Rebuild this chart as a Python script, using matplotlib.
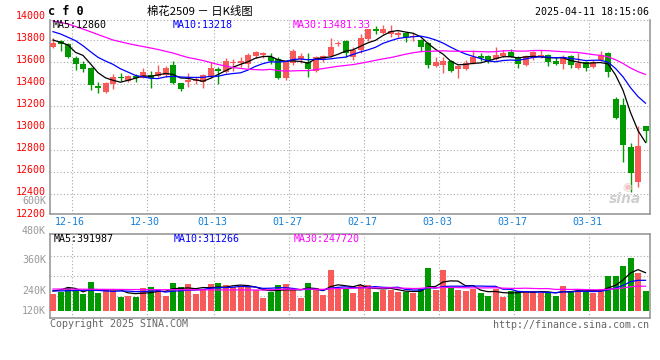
import numpy as np
import pandas as pd
import matplotlib
matplotlib.use("Agg")
import matplotlib.pyplot as plt
import matplotlib.transforms as mtransforms

# ---------------------------------------------------------------------------
# data (cotton 2509 daily K line)
# ---------------------------------------------------------------------------
opens = [13736, 13791, 13761, 13636, 13579, 13545, 13382, 13322, 13395, 13460,
         13427, 13470, 13455, 13479, 13470, 13479, 13570, 13404, 13418, 13425,
         13418, 13458, 13530, 13509, 13590, 13591, 13576, 13654, 13665, 13645,
         13624, 13455, 13585, 13622, 13600, 13515, 13622, 13654, 13762, 13788,
         13645, 13706, 13806, 13893, 13858, 13850, 13843, 13864, 13820, 13797,
         13773, 13561, 13570, 13609, 13531, 13534, 13585, 13652, 13652, 13622,
         13652, 13685, 13640, 13570, 13630, 13645, 13661, 13609, 13579, 13652,
         13545, 13600, 13549, 13615, 13676, 13258, 13206, 12822, 12509, 13015]
highs = [13813, 13800, 13770, 13654, 13606, 13555, 13413, 13412, 13485, 13495,
         13480, 13490, 13545, 13515, 13570, 13565, 13606, 13410, 13500, 13465,
         13490, 13600, 13555, 13630, 13621, 13645, 13682, 13700, 13690, 13676,
         13645, 13610, 13715, 13676, 13676, 13650, 13665, 13813, 13790, 13795,
         13736, 13849, 13900, 13924, 13933, 13930, 13880, 13870, 13860, 13810,
         13780, 13645, 13640, 13620, 13570, 13620, 13706, 13680, 13665, 13736,
         13706, 13715, 13650, 13665, 13700, 13706, 13670, 13640, 13660, 13665,
         13676, 13610, 13615, 13697, 13690, 13276, 13267, 12858, 13015, 13020]
lows = [13722, 13697, 13636, 13528, 13509, 13343, 13318, 13318, 13349, 13425,
        13418, 13420, 13450, 13364, 13460, 13465, 13400, 13334, 13373, 13400,
        13358, 13450, 13394, 13494, 13515, 13555, 13540, 13630, 13630, 13576,
        13440, 13430, 13570, 13585, 13458, 13505, 13600, 13645, 13740, 13645,
        13620, 13676, 13790, 13852, 13850, 13820, 13820, 13782, 13790, 13697,
        13545, 13550, 13500, 13509, 13455, 13525, 13575, 13610, 13590, 13615,
        13640, 13640, 13540, 13560, 13615, 13630, 13561, 13570, 13531, 13540,
        13535, 13520, 13540, 13610, 13464, 13080, 12691, 12418, 12464, 12873]
closes = [13773, 13758, 13643, 13576, 13536, 13388, 13358, 13409, 13464, 13450,
          13473, 13455, 13509, 13449, 13509, 13545, 13409, 13349, 13433, 13440,
          13479, 13545, 13520, 13606, 13600, 13609, 13661, 13685, 13680, 13609,
          13455, 13594, 13700, 13652, 13534, 13645, 13652, 13736, 13770, 13676,
          13706, 13813, 13894, 13883, 13894, 13880, 13864, 13827, 13830, 13736,
          13570, 13600, 13609, 13518, 13561, 13591, 13645, 13630, 13609, 13661,
          13682, 13645, 13576, 13652, 13691, 13661, 13600, 13579, 13645, 13570,
          13591, 13540, 13600, 13661, 13509, 13091, 12843, 12591, 12834, 12973]
# volume in thousands of lots
volumes = [173, 197, 231, 204, 173, 296, 187, 214, 224, 146,
           156, 146, 238, 248, 214, 156, 286, 248, 275, 173,
           214, 275, 286, 265, 248, 248, 248, 214, 136, 190,
           265, 275, 214, 136, 286, 238, 163, 418, 231, 238,
           187, 265, 265, 197, 214, 214, 197, 190, 180, 224,
           442, 214, 418, 238, 214, 204, 224, 187, 156, 224,
           146, 204, 204, 197, 204, 180, 190, 156, 255, 204,
           224, 190, 180, 224, 357, 357, 459, 544, 391, 204]

# moving-average values before the chart has enough bars
ma5_lead = [13797, 13776, 13752, 13685]
ma10_lead = [13873, 13852, 13822, 13791, 13745, 13691, 13640, 13606, 13576]
ma30_lead = [13970, 13957, 13943, 13920, 13897, 13872, 13847, 13822, 13797, 13781,
             13765, 13751, 13738, 13725, 13711, 13695, 13679, 13658, 13638, 13625,
             13611, 13593, 13575, 13561, 13547, 13539, 13531, 13528, 13525]
vma5_lead = [204, 215, 240, 230]
vma10_lead = [205, 205, 207, 210, 212, 212, 210, 205, 200]
vma30_lead = [224, 224, 223, 223, 222, 222, 221, 221, 220, 220,
              219, 219, 218, 218, 218, 217, 217, 217, 216, 216,
              216, 216, 215, 215, 215, 215, 215, 214, 214]

tick_idx = [2, 12, 21, 31, 41, 51, 61, 71]
tick_labels = ["12-16", "12-30", "01-13", "01-27", "02-17", "03-03", "03-17", "03-31"]
price_ticks = [12200, 12400, 12600, 12800, 13000, 13200, 13400, 13600, 13800, 14000]
vol_tick_labels = ["480K", "360K", "240K", "120K"]
ma_labels = ["MA5:12860", "MA10:13218", "MA30:13481.33"]
vma_labels = ["MA5:391987", "MA10:311266", "MA30:247720"]

# ---------------------------------------------------------------------------
RED = "#f85a5a"
GREEN = "#009a00"
MA_COLORS = ["black", "#0000ff", "#ff00ff"]
GRID = "#a8a8a8"
MONO = "DejaVu Sans Mono"
W, H = 660, 360


def fx(px):
    return px / W


def fy(py):
    return 1 - py / H


def moving(vals, n, lead):
    out = pd.Series(vals, dtype=float).rolling(n).mean().to_numpy()
    out[:len(lead)] = lead
    return out


x = np.arange(len(closes))
o = np.array(opens, float)
c = np.array(closes, float)
up = c >= o
colors = np.where(up, RED, GREEN)

fig = plt.figure(figsize=(6.6, 3.6), dpi=100)
fig.patch.set_facecolor("white")

# ---------------- price panel ----------------
ax = fig.add_axes([fx(50), fy(214), fx(600), 194 / H])
ax.set_xlim(-0.4, len(closes) - 0.4)
ax.set_ylim(12216, 13979)

body_lo = np.minimum(o, c)
body_h = np.maximum(np.abs(c - o), 8)
ax.vlines(x, lows, highs, colors=colors, linewidth=1, zorder=3)
ax.bar(x, body_h, bottom=body_lo, width=0.8, color=colors, linewidth=0, zorder=4)

for vals, n, lead, col in [(closes, 5, ma5_lead, MA_COLORS[0]),
                           (closes, 10, ma10_lead, MA_COLORS[1]),
                           (closes, 30, ma30_lead, MA_COLORS[2])]:
    ax.plot(x, moving(vals, n, lead), color=col, linewidth=0.9, zorder=5)

for p in price_ticks[1:-1]:
    ax.axhline(p, color=GRID, linewidth=0.8, linestyle=(0, (1, 2)), zorder=1)
ax.axhline(13979, color=GRID, linewidth=0.8, linestyle=(0, (1, 2)), zorder=1, clip_on=False)
for i in tick_idx:
    ax.axvline(i + 0.47, color=GRID, linewidth=0.8, linestyle=(0, (1, 2)), zorder=1)

ax.set_xticks([])
ax.set_yticks([])
for side in ["left", "right", "bottom"]:
    ax.spines[side].set_color("#999999")
    ax.spines[side].set_linewidth(1.2)
ax.spines["top"].set_visible(False)

lab_tr = mtransforms.offset_copy(ax.get_yaxis_transform(), fig=fig, x=-4, y=2, units="dots")
for p in price_ticks:
    ax.text(0, p, str(p), transform=lab_tr, ha="right", va="center", color="#ff0000",
            fontsize=7.2, family=MONO, clip_on=False)
fig.text(fx(46), fy(200.5), "600K", ha="right", va="center", color="#999999",
         fontsize=7.2, family=MONO)

date_tr = mtransforms.offset_copy(ax.get_xaxis_transform(), fig=fig, x=-2, y=-8, units="dots")
for i, lab in zip(tick_idx, tick_labels):
    ax.text(i + 0.47, 0, lab, transform=date_tr, ha="center", va="center",
            color="#1580d8", fontsize=7.2, family=MONO, clip_on=False)

for xp, lab, col in zip([53, 173, 293], ma_labels, MA_COLORS):
    fig.text(fx(xp), fy(24.5), lab, ha="left", va="center", color=col, fontsize=7.2, family=MONO)

fig.text(fx(625), fy(199), "sina", ha="center", va="center", color="#cfcfcf",
         fontsize=10, fontweight="bold", style="italic", family="DejaVu Sans")
fig.text(fx(627), fy(187), "\u25c9", ha="center", va="center", color="#f3c4c4", fontsize=8)

# ---------------- header ----------------
fig.text(fx(48), fy(11.5), "c f 0", ha="left", va="center", fontsize=8.5,
         fontweight="bold", family=MONO)
fig.text(fx(200), fy(11), "棉花2509 － 日K线图", ha="center", va="center", fontsize=8.2,
         family=["Noto Sans CJK SC", "DejaVu Sans"])
fig.text(fx(649), fy(12), "2025-04-11 18:15:06", ha="right", va="center", fontsize=7.2,
         family=MONO)

# ---------------- volume panel ----------------
vx = fig.add_axes([fx(50), fy(318), fx(600), 84 / H])
vx.set_xlim(-0.4, len(closes) - 0.4)
vx.set_ylim(-71.4, 785.4)
vx.bar(x, volumes, width=0.8, color=colors, linewidth=0, zorder=3)
for n, lead, col in [(5, vma5_lead, MA_COLORS[0]), (10, vma10_lead, MA_COLORS[1]),
                     (30, vma30_lead, MA_COLORS[2])]:
    vx.plot(x, moving(volumes, n, lead), color=col, linewidth=0.9, zorder=4)
for v in [564, 360, 156]:
    vx.axhline(v, color=GRID, linewidth=0.8, linestyle=(0, (1, 2)), zorder=1)
for i in tick_idx:
    vx.axvline(i + 0.47, color=GRID, linewidth=0.8, linestyle=(0, (1, 2)), zorder=1)
vx.set_xticks([])
vx.set_yticks([])
for side in vx.spines:
    vx.spines[side].set_color("#999999")
    vx.spines[side].set_linewidth(1.2)

for py, lab in zip([230.7, 260.3, 290.7, 311.3], vol_tick_labels):
    fig.text(fx(46), fy(py), lab, ha="right", va="center", color="#999999",
             fontsize=7.2, family=MONO)
for xp, lab, col in zip([54, 174, 294], vma_labels, MA_COLORS):
    fig.text(fx(xp), fy(239), lab, ha="left", va="center", color=col, fontsize=7.2, family=MONO)

fig.text(fx(50), fy(324), "Copyright 2025 SINA.COM", ha="left", va="center",
         color="#666666", fontsize=7.2, family=MONO)
fig.text(fx(649), fy(325), "http://finance.sina.com.cn", ha="right", va="center",
         color="#666666", fontsize=7.2, family=MONO)

fig.savefig("out.png", dpi=100)
